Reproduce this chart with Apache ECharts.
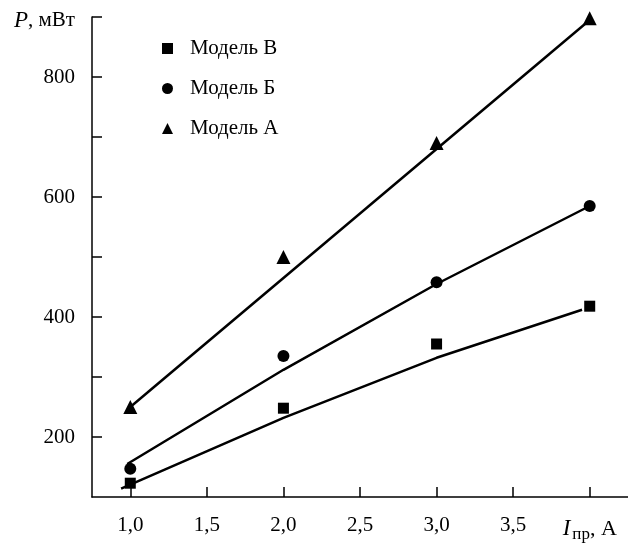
<!DOCTYPE html>
<html>
<head>
<meta charset="utf-8">
<script src="https://cdn.jsdelivr.net/npm/echarts@6/dist/echarts.min.js"></script>
<style>html,body{margin:0;padding:0;background:#fff}#c{width:628px;height:545px}</style>
</head>
<body>
<div id="c"></div>
<script>
// Data
var xValues = [1.0, 2.0, 3.0, 4.0];
var modelA = [250, 500, 690, 898];   // triangles (Модель А)
var modelB = [147, 335, 458, 585];   // circles (Модель Б)
var modelV = [123, 248, 355, 418];   // squares (Модель В)

// fitted lines drawn on the chart
var fitA = [[1.0, 250], [4.0, 895]];
var fitB = [[0.98, 155], [2.0, 312], [3.0, 455], [4.0, 585]];
var fitV = [[0.94, 114], [2.0, 232], [3.0, 332], [3.95, 412]];

var xTicks = [1.0, 1.5, 2.0, 2.5, 3.0, 3.5, 4.0];
var yLabeled = [200, 400, 600, 800];

var names = ['Модель В', 'Модель Б', 'Модель А'];

var FONT = 'Liberation Serif';
function pairs(vals){ return xValues.map(function(x,i){ return [x, vals[i]]; }); }

var chart = echarts.init(document.getElementById('c'));
chart.setOption({
  animation: false,
  backgroundColor: '#fff',
  grid: { left: 92, right: 0, top: 17, bottom: 48, containLabel: false },
  legend: {
    orient: 'vertical',
    left: 157, top: 33,
    itemWidth: 11, itemHeight: 11, itemGap: 19,
    data: names,
    textStyle: { fontFamily: FONT, fontSize: 21, color: '#000', lineHeight: 11, padding: [0,0,0,12] }
  },
  xAxis: {
    type: 'value', min: 0.75, max: 4.25,
    axisLine: { lineStyle: { color: '#000', width: 1.5 } },
    axisTick: { inside: true, length: 10, customValues: xTicks, lineStyle: { color: '#000', width: 1.5 } },
    splitLine: { show: false },
    axisLabel: {
      customValues: xTicks, margin: 18,
      fontFamily: FONT, fontSize: 21, color: '#000',
      formatter: function(v){
        if (Math.abs(v-4) < 1e-9) return '{i|I}{s|пр}{n|, А}';
        return v.toFixed(1).replace('.', ',');
      },
      rich: {
        i: { fontFamily: FONT, fontSize: 23, fontStyle: 'italic', color: '#000' },
        s: { fontFamily: FONT, fontSize: 17, color: '#000', padding: [11,0,0,2] },
        n: { fontFamily: FONT, fontSize: 22, color: '#000' }
      }
    }
  },
  yAxis: {
    type: 'value', min: 100, max: 900, interval: 100,
    axisLine: { show: true, lineStyle: { color: '#000', width: 1.5 } },
    axisTick: { show: true, inside: true, length: 10, lineStyle: { color: '#000', width: 1.5 } },
    splitLine: { show: false },
    axisLabel: {
      margin: 17, fontFamily: FONT, fontSize: 21, color: '#000',
      showMinLabel: false,
      formatter: function(v){
        if (v === 900) return '{i|P}{n|, мВт}';
        return yLabeled.indexOf(v) >= 0 ? String(v) : '';
      },
      rich: {
        i: { fontFamily: FONT, fontSize: 23, fontStyle: 'italic', color: '#000', padding: [7,0,0,0] },
        n: { fontFamily: FONT, fontSize: 21, color: '#000', padding: [7,0,0,0] }
      }
    }
  },
  series: [
    { name: 'fitA', type: 'line', data: fitA, symbol: 'none', silent: true,
      lineStyle: { color: '#000', width: 2.5 } },
    { name: 'fitB', type: 'line', data: fitB, symbol: 'none', silent: true,
      lineStyle: { color: '#000', width: 2.5 } },
    { name: 'fitV', type: 'line', data: fitV, symbol: 'none', silent: true,
      lineStyle: { color: '#000', width: 2.5 } },
    { name: 'Модель В', type: 'scatter', data: pairs(modelV), symbol: 'rect', symbolSize: 11,
      itemStyle: { color: '#000', opacity: 1 } },
    { name: 'Модель Б', type: 'scatter', data: pairs(modelB), symbol: 'circle', symbolSize: 12,
      itemStyle: { color: '#000', opacity: 1 } },
    { name: 'Модель А', type: 'scatter', data: pairs(modelA), symbol: 'triangle', symbolSize: 14,
      itemStyle: { color: '#000', opacity: 1 } }
  ]
});
</script>
</body>
</html>
